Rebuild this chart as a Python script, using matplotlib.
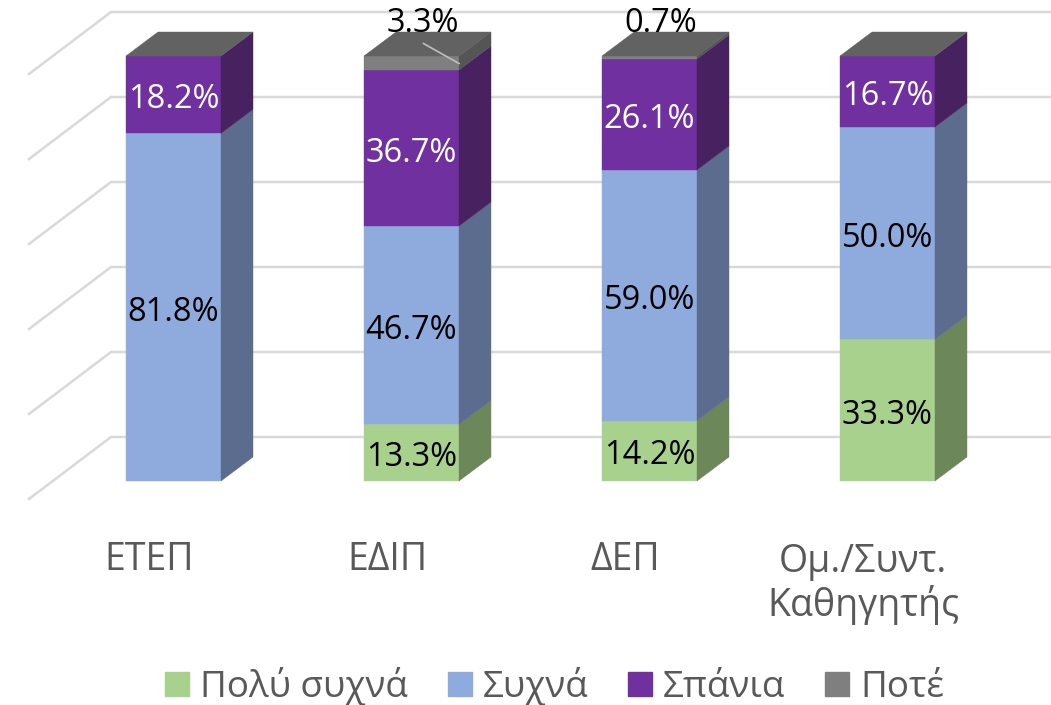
import matplotlib
matplotlib.use("Agg")
import matplotlib.pyplot as plt
from matplotlib.patches import Patch

plt.rcParams['font.family'] = ['Open Sans', 'DejaVu Sans']

categories = ['ΕΤΕΠ', 'ΕΔΙΠ', 'ΔΕΠ', 'Ομ./Συντ.\nΚαθηγητής']
series_names = ['Πολύ συχνά', 'Συχνά', 'Σπάνια', 'Ποτέ']
very_often = [0, 13.3, 14.2, 33.3]
often = [81.8, 46.7, 59.0, 50.0]
rarely = [18.2, 36.7, 26.1, 16.7]
never = [0, 3.3, 0.7, 0]
gridlines = [0, 20, 40, 60, 80, 100]

front_colors = ['#A9D18E', '#8FAADC', '#7030A0', '#7F7F7F']
side_colors = ['#6C8759', '#5B6C8E', '#472160', '#555555']
label_colors = ['black', 'black', 'white', 'black']
top_color = '#626262'
grid_color = '#D9D9D9'
text_color = '#595959'

W, H = 1051, 705
px_x = 238.0          # pixels per category
px_y = 4.25           # pixels per percent
x0_px, y0_px = 173.5, 481.0

fig = plt.figure(figsize=(W / 100, H / 100), dpi=100)
ax = fig.add_axes([0, 0, 1, 1])
ax.set_xlim(-x0_px / px_x, (W - x0_px) / px_x)
ax.set_ylim(-(H - y0_px) / px_y, y0_px / px_y)
ax.axis('off')

bar_w = 95 / px_x
dx, dy = 32 / px_x, 24 / px_y
label_drop = 5 / px_y

# walls
wall_x = (111 - x0_px) / px_x
wall_dy = 44 / px_y
diag_x = (29 - x0_px) / px_x
diag_dy = -18 / px_y
for g in gridlines:
    ax.plot([diag_x, wall_x, (W - x0_px) / px_x],
            [g + diag_dy, g + wall_dy, g + wall_dy],
            color=grid_color, lw=1.8, zorder=1, solid_joinstyle='miter')

series = [very_often, often, rarely, never]
for i, cat in enumerate(categories):
    left, right = i - bar_w / 2, i + bar_w / 2
    bottom = 0
    for s, vals in enumerate(series):
        v = vals[i]
        if v > 0:
            ax.bar(i, v, bar_w, bottom=bottom, color=front_colors[s],
                   edgecolor=front_colors[s], lw=0.3, zorder=3)
            ax.fill([right, right + dx, right + dx, right],
                    [bottom, bottom + dy, bottom + v + dy, bottom + v],
                    color=side_colors[s], lw=0.3, zorder=3)
            mid = bottom + v / 2
            if s == 3:
                if v > 2:
                    ax.plot([i + 12 / px_x, i + 47.5 / px_x],
                            [bottom + v + 12.5 / px_y, bottom + v - 7.5 / px_y],
                            color='#BFBFBF', lw=1.2, zorder=5)
                ax.text(i + 11.5 / px_x, 100 + 32 / px_y, f'{v:.1f}%', color=label_colors[s],
                        fontsize=23.5, ha='center', va='center', zorder=6)
            else:
                ax.text(i, mid - label_drop, f'{v:.1f}%', color=label_colors[s],
                        fontsize=23.5, ha='center', va='center', zorder=6)
        bottom += v
    ax.fill([left, left + dx, right + dx, right],
            [bottom, bottom + dy, bottom + dy, bottom],
            color=top_color, lw=0.3, zorder=4)
    two_line = '\n' in cat
    label_y_px = 584 if two_line else 560
    ax.text(i - 24.5 / px_x, -(label_y_px - y0_px) / px_y,
            cat, color=text_color, fontsize=27, ha='center', va='center',
            linespacing=1.12, zorder=6)

handles = [Patch(color=c, label=n) for c, n in zip(front_colors, series_names)]
ax.legend(handles=handles, loc='lower left', bbox_to_anchor=(165 / W, -1 / H), ncol=4, frameon=False,
          fontsize=26.5, labelcolor=text_color, handlelength=0.65, handleheight=0.65,
          handletextpad=0.3, columnspacing=1.08, borderpad=0, borderaxespad=0)

fig.savefig('out.png', dpi=100)
